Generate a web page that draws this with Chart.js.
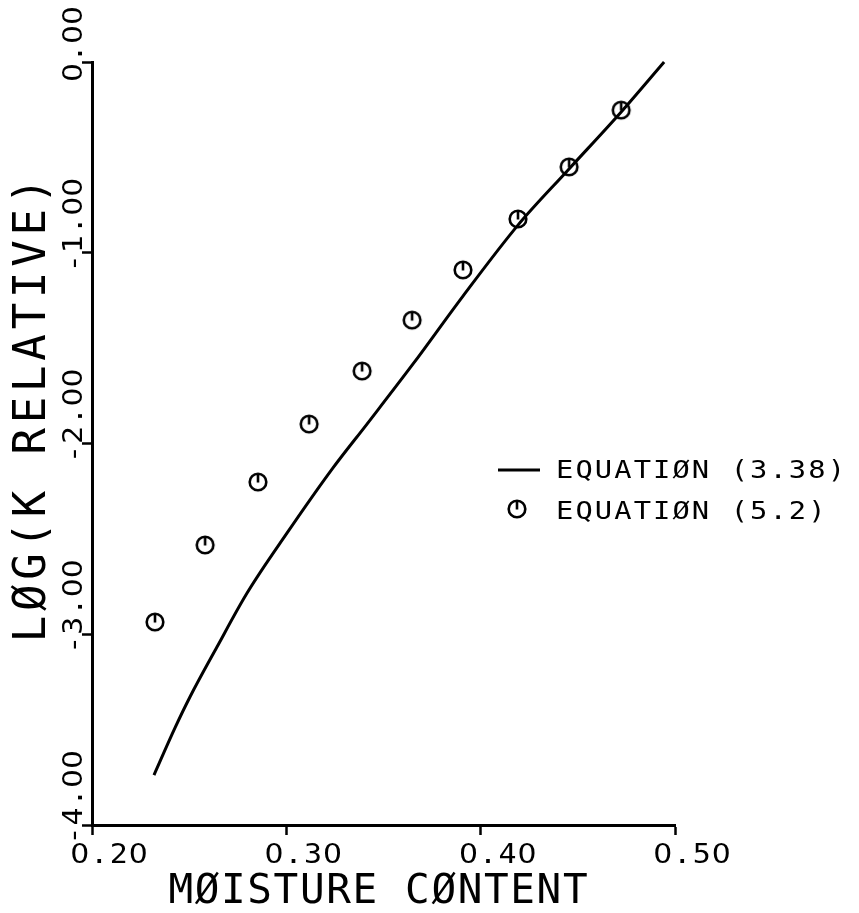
<!DOCTYPE html>
<html>
<head>
<meta charset="utf-8">
<script src="https://cdn.jsdelivr.net/npm/chart.js@4"></script>
<style>
  html, body { margin: 0; padding: 0; background: #fff; }
  canvas { display: block; }
</style>
</head>
<body>
<canvas id="kChart" width="859" height="913"></canvas>
<script>
// equation (3.38) - the smooth curve
const curveMoisture = [0.2319, 0.2427, 0.2504, 0.2643, 0.2798, 0.3004, 0.3240, 0.3415, 0.3652, 0.3909, 0.4192, 0.4450, 0.4723, 0.4944]
const curveLogK = [-3.738, -3.491, -3.329, -3.067, -2.784, -2.469, -2.128, -1.898, -1.583, -1.227, -0.855, -0.566, -0.262, 0.0]

// equation (5.2) - the circle symbols
const pointMoisture = [0.2324, 0.2582, 0.2854, 0.3117, 0.3390, 0.3647, 0.3909, 0.4192, 0.4455, 0.4723]
const pointLogK = [-2.936, -2.532, -2.202, -1.898, -1.620, -1.353, -1.090, -0.823, -0.550, -0.252]

const xTicks = [0.2, 0.3, 0.4, 0.5]
const xTickLabels = ['0.20', '0.30', '0.40', '0.50']
const yTicks = [0, -1, -2, -3, -4]
const yTickLabels = ['0.00', '-1.00', '-2.00', '-3.00', '-4.00']

const xTitle = 'MØISTURE CØNTENT'
const yTitle = 'LØG(K RELATIVE)'
const legendLabels = ['EQUATIØN (3.38)', 'EQUATIØN (5.2)']

// plotter style symbol: circle with a little stroke from the top to the centre
function makeSymbol() {
    const c = document.createElement('canvas')
    c.width = 24
    c.height = 24
    const g = c.getContext('2d')
    g.strokeStyle = '#000'
    g.lineWidth = 2.6
    g.beginPath()
    g.arc(12, 12, 8.3, 0, Math.PI * 2)
    g.stroke()
    g.beginPath()
    g.moveTo(12, 4)
    g.lineTo(12, 12.5)
    g.stroke()
    return c
}
const symbol = makeSymbol()

// plotter lettering: every character in a fixed cell, glyphs a bit wider than the font's
// (the mono font has a dotted zero, so the digit 0 comes from the plain sans)
function plotText(ctx, s, x, y, size, pitch, sx, align, rot) {
    ctx.save()
    ctx.translate(x, y)
    if (rot) ctx.rotate(rot)
    ctx.fillStyle = '#000'
    ctx.textAlign = 'center'
    ctx.textBaseline = 'alphabetic'
    const x0 = align == 'center' ? -s.length * pitch / 2 : 0
    for (let i = 0; i < s.length; i++) {
        const ch = s[i]
        if (ch == ' ') continue
        ctx.save()
        ctx.translate(x0 + (i + 0.5) * pitch, size * 0.365)
        ctx.scale(sx, 1)
        ctx.font = size + 'px ' + (ch == '0' ? '"DejaVu Sans"' : '"DejaVu Sans Mono"')
        ctx.fillText(ch, 0, 0)
        ctx.restore()
    }
    ctx.restore()
}

const labelsPlugin = {
    id: 'plotterLabels',
    afterDraw(chart) {
        const ctx = chart.ctx
        const xs = chart.scales.x
        const ys = chart.scales.y

        xTicks.forEach((v, i) => {
            plotText(ctx, xTickLabels[i], xs.getPixelForValue(v) - 22, 854, 26, 19.5, 1.15, 'left')
        })
        yTicks.forEach((v, i) => {
            plotText(ctx, yTickLabels[i], 73, ys.getPixelForValue(v) + 20, 26, 19, 1.15, 'left', -Math.PI / 2)
        })

        plotText(ctx, xTitle, 378, 888, 41, 26.3, 1.0, 'center')
        plotText(ctx, yTitle, 29, 410, 44, 31.3, 1.0, 'center', -Math.PI / 2)

        // legend
        ctx.save()
        ctx.strokeStyle = '#000'
        ctx.lineWidth = 3
        ctx.beginPath()
        ctx.moveTo(498, 470)
        ctx.lineTo(540, 470)
        ctx.stroke()
        ctx.restore()
        plotText(ctx, legendLabels[0], 555, 469, 25, 19.4, 1.15, 'left')
        ctx.drawImage(symbol, 517 - 12, 509 - 12)
        plotText(ctx, legendLabels[1], 555, 510, 25, 19.4, 1.15, 'left')
    }
}

const axisGrid = {
    display: true,
    drawOnChartArea: false,
    drawTicks: true,
    tickLength: 10,
    tickColor: '#000',
    tickWidth: 2.5
}

new Chart(document.getElementById('kChart'), {
    type: 'scatter',
    data: {
        datasets: [{
            label: legendLabels[0],
            data: curveMoisture.map((x, i) => ({x: x, y: curveLogK[i]})),
            showLine: true,
            borderColor: '#000',
            borderWidth: 3,
            pointRadius: 0,
            cubicInterpolationMode: 'monotone',
            clip: false
        }, {
            label: legendLabels[1],
            data: pointMoisture.map((x, i) => ({x: x, y: pointLogK[i]})),
            showLine: false,
            pointStyle: symbol,
            pointRadius: 10
        }]
    },
    options: {
        responsive: false,
        animation: false,
        layout: { padding: { top: 62, right: 184, left: 0, bottom: 0 } },
        plugins: {
            legend: { display: false },
            tooltip: { enabled: false }
        },
        scales: {
            x: {
                type: 'linear',
                min: 0.2,
                max: 0.5,
                afterBuildTicks: s => { s.ticks = xTicks.map(v => ({value: v})) },
                afterFit: s => { s.height = 88 },
                ticks: { display: false },
                grid: axisGrid,
                border: { display: true, color: '#000', width: 3 }
            },
            y: {
                type: 'linear',
                min: -4,
                max: 0,
                afterBuildTicks: s => { s.ticks = yTicks.map(v => ({value: v})) },
                afterFit: s => { s.width = 92 },
                ticks: { display: false },
                grid: axisGrid,
                border: { display: true, color: '#000', width: 3 }
            }
        }
    },
    plugins: [labelsPlugin]
})
</script>
</body>
</html>
